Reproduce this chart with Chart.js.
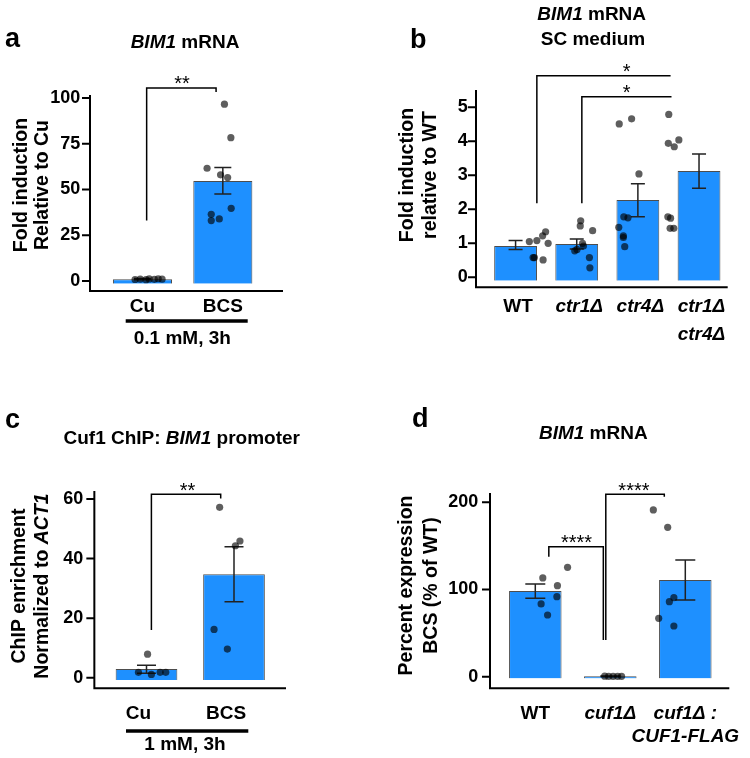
<!DOCTYPE html>
<html>
<head>
<meta charset="utf-8">
<script src="https://cdn.jsdelivr.net/npm/chart.js@4.4.1/dist/chart.umd.min.js"></script>
<style>
  body { margin: 0; background: #fff; }
  #fig { position: relative; width: 750px; height: 758px; }
  canvas { position: absolute; }
</style>
</head>
<body>
<div id="fig">
  <canvas id="pa" width="375" height="380" style="left:0;top:0"></canvas>
  <canvas id="pb" width="375" height="380" style="left:375px;top:0"></canvas>
  <canvas id="pc" width="375" height="378" style="left:0;top:380px"></canvas>
  <canvas id="pd" width="375" height="378" style="left:375px;top:380px"></canvas>
</div>
<script>
const FONT = '"Liberation Sans", Arial, sans-serif';

// ---- panel a: BIM1 mRNA, Cu vs BCS ----
const aLabels = ['Cu', 'BCS'];
const aMeans = [1, 54.6];
const aErrLow = [0.6, 47.5];
const aErrHigh = [1.4, 62];
const aPtX = [-0.24, -0.16, -0.07, -0.02, 0.06, 0.12, 0.18,
              1.15, 1.25, 0.88, 1.09, 1.2, 1.255, 0.945, 0.945, 1.07];
const aPtY = [0.8, 1.0, 0.7, 1.1, 0.9, 1.2, 1.0,
              96.6, 78.3, 61.6, 58, 56.5, 39.7, 36.4, 33, 33.9];
const aYTicks = [0, 25, 50, 75, 100];
const aBrackets = [{ x1: -0.06, x2: 1.02, y: 105.5, y1: 33, y2: 103.3, text: '**', tx: 0.49 }];

// ---- panel b: BIM1 mRNA, SC medium ----
const bLabels = ['WT', 'ctr1Δ', 'ctr4Δ', ['ctr1Δ', 'ctr4Δ']];
const bMeans = [0.92, 0.98, 2.27, 3.13];
const bErrLow = [0.82, 0.83, 1.78, 2.62];
const bErrHigh = [1.08, 1.13, 2.75, 3.63];
const bPtX = [-0.2, -0.036, 0.09, 0.155, 0.21, -0.118, -0.09, 0.1,
              0.92, 0.91, 1.18, 0.96, 0.98, 0.79, 0.84, 1.11, 1.12,
              1.76, 2.03, 2.19, 1.86, 1.95, 1.75, 1.85, 1.85, 1.88,
              2.95, 2.84, 3.06, 2.83, 2.96, 2.82, 2.88, 2.87, 2.95];
const bPtY = [1.05, 1.08, 1.22, 1.34, 1.0, 0.58, 0.58, 0.51,
              1.66, 1.51, 1.37, 1.0, 0.92, 0.78, 0.82, 0.58, 0.28,
              4.51, 4.66, 3.04, 1.78, 1.75, 1.47, 1.22, 1.17, 0.90,
              5.14, 4.79, 4.04, 3.94, 3.84, 1.78, 1.74, 1.44, 1.44];
const bYTicks = [0, 1, 2, 3, 4, 5];
const bBrackets = [
  { x1: -0.036, x2: 2.88, y: 5.93, y1: 2.18, y2: 5.93, text: '*', tx: 1.92 },
  { x1: 0.945, x2: 2.9, y: 5.31, y1: 2.18, y2: 5.31, text: '*', tx: 1.92 }
];

// ---- panel c: Cuf1 ChIP ----
const cLabels = ['Cu', 'BCS'];
const cMeans = [2.9, 34.7];
const cErrLow = [1.5, 25.5];
const cErrHigh = [4.2, 44.0];
const cPtX = [-0.11, -0.24, -0.055, 0.07, 0.15, 0.92, 1.145, 1.21, 0.84, 1.03];
const cPtY = [7.9, 1.8, 1.1, 1.8, 1.8, 57.2, 44.3, 45.9, 16.2, 9.6];
const cYTicks = [0, 20, 40, 60];
const cBrackets = [{ x1: -0.055, x2: 0.935, y: 61.6, y1: 16, y2: 60.2, text: '**', tx: 0.46 }];

// ---- panel d: BIM1 mRNA, percent of WT ----
const dLabels = ['WT', 'cuf1Δ', ['cuf1Δ :', 'CUF1-FLAG']];
const dMeans = [98.3, 0.5, 110.9];
const dErrLow = [89.9, 0.2, 88.0];
const dErrHigh = [106.3, 0.8, 133.9];
const dPtX = [-0.2, 0.24, 0.06, 0.05, -0.23, -0.115,
              0.9, 0.97, 1.05, 1.13, 1.2,
              1.765, 2.02, 2.13, 2.05, 1.86, 2.13];
const dPtY = [113.2, 125.4, 104.4, 91.8, 83.4, 70.7,
              0.5, 0.3, 0.4, 0.4, 0.4,
              191.2, 171.3, 90.6, 86.0, 66.9, 58.1];
const dYTicks = [0, 100, 200];
const dBrackets = [
  { x1: -0.093, x2: 0.876, y: 149.1, y1: 137.6, y2: 42, text: '****', tx: 0.4 },
  { x1: 0.92, x2: 1.96, y: 209.2, y1: 42, y2: 206.5, text: '****', tx: 1.42 }
];

function rich(ctx, parts, size, x, y) {
  const f = it => (it ? 'italic ' : '') + 'bold ' + size + 'px ' + FONT;
  let w = 0;
  parts.forEach(p => { ctx.font = f(p[1]); w += ctx.measureText(p[0]).width; });
  let cx = x - w / 2;
  ctx.textAlign = 'left';
  parts.forEach(p => {
    ctx.font = f(p[1]);
    ctx.fillText(p[0], cx, y);
    cx += ctx.measureText(p[0]).width;
  });
}

function figPlugin(L, errLow, errHigh, brackets) {
  return {
    id: 'fig',
    afterDatasetDraw(chart, args) {
      if (args.index !== 0) return;
      const { ctx, scales: { x, y } } = chart;
      ctx.save();
      ctx.strokeStyle = '#222';
      ctx.lineWidth = 1.5;
      errLow.forEach((lo, i) => {
        const px = x.getPixelForValue(i);
        const a = y.getPixelForValue(lo), b = y.getPixelForValue(errHigh[i]);
        ctx.beginPath();
        ctx.moveTo(px, a); ctx.lineTo(px, b);
        ctx.moveTo(px - L.cap / 2, a); ctx.lineTo(px + L.cap / 2, a);
        ctx.moveTo(px - L.cap / 2, b); ctx.lineTo(px + L.cap / 2, b);
        ctx.stroke();
      });
      ctx.restore();
    },
    afterDraw(chart) {
      const { ctx, chartArea: ca, scales: { xj, y } } = chart;
      ctx.save();
      ctx.fillStyle = '#000';
      // axes, offset from the plot area like Prism
      const ax = ca.left - L.gapL, ay = ca.bottom + L.gapB;
      ctx.strokeStyle = '#000';
      ctx.lineWidth = 2;
      ctx.beginPath();
      ctx.moveTo(ax, L.axisTop); ctx.lineTo(ax, ay); ctx.lineTo(L.axisRight, ay);
      y.ticks.forEach(t => {
        const py = y.getPixelForValue(t.value);
        ctx.moveTo(ax - 8, py); ctx.lineTo(ax, py);
      });
      ctx.stroke();

      // significance brackets
      ctx.lineWidth = 1.5;
      brackets.forEach(b => {
        const x1 = xj.getPixelForValue(b.x1), x2 = xj.getPixelForValue(b.x2);
        const yt = y.getPixelForValue(b.y);
        ctx.beginPath();
        ctx.moveTo(x1, y.getPixelForValue(b.y1)); ctx.lineTo(x1, yt);
        ctx.lineTo(x2, yt); ctx.lineTo(x2, y.getPixelForValue(b.y2));
        ctx.stroke();
        ctx.font = '20px ' + FONT;
        ctx.textAlign = 'center';
        ctx.textBaseline = 'alphabetic';
        ctx.fillText(b.text, xj.getPixelForValue(b.tx), yt + 2.5);
      });

      // panel letter
      ctx.textBaseline = 'alphabetic';
      ctx.textAlign = 'left';
      ctx.font = 'bold 27px ' + FONT;
      ctx.fillText(L.letter[0], L.letter[1], L.letter[2]);

      // titles
      ctx.textBaseline = 'middle';
      L.titles.forEach(t => rich(ctx, t.parts, 19, t.x, t.y));

      // y axis title
      ctx.textBaseline = 'alphabetic';
      L.yTitle.forEach(t => {
        ctx.save();
        ctx.translate(t.x, L.yTitleY);
        ctx.rotate(-Math.PI / 2);
        rich(ctx, t.parts, 19.5, 0, 0);
        ctx.restore();
      });

      // treatment bar under the x labels
      if (L.under) {
        const u = L.under;
        ctx.lineWidth = 3.3;
        ctx.beginPath(); ctx.moveTo(u.x1, u.y); ctx.lineTo(u.x2, u.y); ctx.stroke();
        ctx.textBaseline = 'middle';
        rich(ctx, [[u.text, false]], 19, u.tx, u.ty);
      }
      ctx.restore();
    }
  };
}

function makePanel(id, L, labels, means, errLow, errHigh, ptX, ptY, yTicks, brackets) {
  const points = ptX.map((x, i) => ({ x: x, y: ptY[i] }));
  const xH = L.canvasH - L.bottom;
  new Chart(document.getElementById(id), {
    type: 'bar',
    data: {
      labels: labels,
      datasets: [{
        type: 'bar',
        order: 2,
        data: means,
        backgroundColor: '#1E90FF',
        borderColor: '#4d4d4d',
        borderWidth: 1,
        base: L.min,
        grouped: false,
        categoryPercentage: 1,
        barPercentage: L.barPct
      }, {
        type: 'scatter',
        order: 1,
        xAxisID: 'xj',
        data: points,
        pointRadius: 3.6,
        pointBackgroundColor: 'rgba(0,0,0,0.63)',
        pointBorderWidth: 0,
        clip: false
      }]
    },
    options: {
      responsive: false,
      animation: false,
      layout: { padding: { left: 0, top: L.top, right: L.padR, bottom: 0 } },
      plugins: { legend: { display: false }, tooltip: { enabled: false } },
      scales: {
        x: {
          type: 'category',
          offset: true,
          grid: { display: false, drawTicks: false },
          border: { display: false },
          ticks: {
            color: '#000',
            autoSkip: false,
            maxRotation: 0,
            padding: L.xPad,
            labelOffset: L.labelOffset,
            font: ctx => ({ family: FONT, size: 19, weight: 'bold',
                            style: L.italic[ctx.index] ? 'italic' : 'normal', lineHeight: L.xLineH })
          },
          afterFit: s => { s.height = xH; s.paddingLeft = 0; s.paddingRight = 0; }
        },
        xj: { type: 'linear', axis: 'x', position: 'bottom', display: false, min: -0.5, max: labels.length - 0.5 },
        y: {
          min: L.min,
          max: L.max,
          grid: { display: false, drawTicks: false },
          border: { display: false },
          ticks: { color: '#000', padding: L.yPad, font: { family: FONT, size: 18, weight: 'bold' } },
          afterBuildTicks: s => { s.ticks = yTicks.map(v => ({ value: v })); },
          afterFit: s => { s.width = L.W; s.paddingTop = 0; s.paddingBottom = 0; }
        }
      }
    },
    plugins: [figPlugin(L, errLow, errHigh, brackets)]
  });
}

makePanel('pa', {
  W: 102.3, padR: 112, top: 98, bottom: 283.7, canvasH: 380, min: -1.5, max: 100,
  gapL: 12.3, gapB: 7.3, axisTop: 95, axisRight: 283, yPad: 22, xPad: 11.6, xLineH: 1.2,
  labelOffset: 0, cap: 17, barPct: 0.735, italic: [false, false],
  letter: ['a', 5, 47],
  titles: [{ parts: [['BIM1', true], [' mRNA', false]], x: 185, y: 43 }],
  yTitle: [{ parts: [['Fold induction', false]], x: 26.7 }, { parts: [['Relative to Cu', false]], x: 48.3 }],
  yTitleY: 185,
  under: { x1: 125.7, x2: 247.7, y: 321, text: '0.1 mM, 3h', tx: 182.3, ty: 338.3 }
}, aLabels, aMeans, aErrLow, aErrHigh, aPtX, aPtY, aYTicks, aBrackets);

makePanel('pb', {
  W: 110, padR: 20.4, top: 107.3, bottom: 280.7, canvasH: 380, min: -0.1, max: 5,
  gapL: 9, gapB: 6.6, axisTop: 90, axisRight: 352.7, yPad: 17.3, xPad: 11.85, xLineH: 1.49,
  labelOffset: 2.5, cap: 14, barPct: 0.70, italic: [false, true, true, true],
  letter: ['b', 35, 48],
  titles: [{ parts: [['BIM1', true], [' mRNA', false]], x: 216.7, y: 15 },
           { parts: [['SC medium', false]], x: 218, y: 40 }],
  yTitle: [{ parts: [['Fold induction', false]], x: 38.3 }, { parts: [['relative to WT', false]], x: 60.5 }],
  yTitleY: 175
}, bLabels, bMeans, bErrLow, bErrHigh, bPtX, bPtY, bYTicks, bBrackets);

makePanel('pc', {
  W: 102.75, padR: 97.25, top: 119, bottom: 300.1, canvasH: 378, min: -0.8, max: 60,
  gapL: 8.4, gapB: 8.2, axisTop: 111, axisRight: 286, yPad: 19.4, xPad: 21.8, xLineH: 1.2,
  labelOffset: -8, cap: 19, barPct: 0.705, italic: [false, false],
  letter: ['c', 5, 48.3],
  titles: [{ parts: [['Cuf1 ChIP: ', false], ['BIM1', true], [' promoter', false]], x: 181.7, y: 58.3 }],
  yTitle: [{ parts: [['ChIP enrichment', false]], x: 25 },
           { parts: [['Normalized to ', false], ['ACT1', true]], x: 48.3 }],
  yTitleY: 206,
  under: { x1: 126, x2: 248.3, y: 351, text: '1 mM, 3h', tx: 185, ty: 365 }
}, cLabels, cMeans, cErrLow, cErrHigh, cPtX, cPtY, cYTicks, cBrackets);

makePanel('pd', {
  W: 122.8, padR: 27.2, top: 122.3, bottom: 298.4, canvasH: 378, min: -2, max: 200,
  gapL: 7.8, gapB: 9.9, axisTop: 113, axisRight: 354.3, yPad: 19.5, xPad: 23.2, xLineH: 1.23,
  labelOffset: 0, cap: 20, barPct: 0.70, italic: [false, true, true],
  letter: ['d', 37, 46.7],
  titles: [{ parts: [['BIM1', true], [' mRNA', false]], x: 218.3, y: 53.3 }],
  yTitle: [{ parts: [['Percent expression', false]], x: 36.7 }, { parts: [['BCS (% of WT)', false]], x: 61.7 }],
  yTitleY: 205.5
}, dLabels, dMeans, dErrLow, dErrHigh, dPtX, dPtY, dYTicks, dBrackets);
</script>
</body>
</html>
